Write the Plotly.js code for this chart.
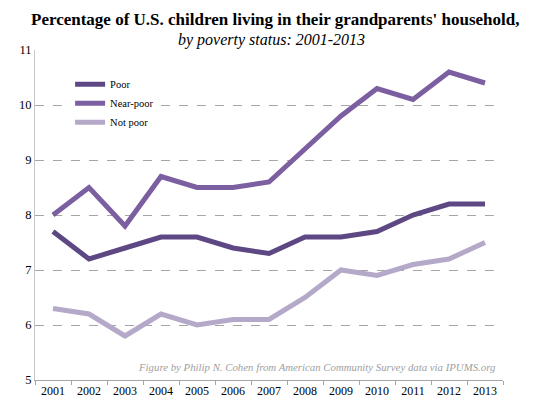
<!DOCTYPE html>
<html>
<head>
<meta charset="utf-8">
<script src="https://cdn.plot.ly/plotly-3.0.1.min.js"></script>
<style>
  html, body { margin: 0; padding: 0; background: #fff; }
  #chart { width: 535px; height: 412px; }
  /* legend and tick labels kept falling back to sans, force the serif */
  #chart text { font-family: 'Liberation Serif', serif !important; }
</style>
</head>
<body>
<div id="chart"></div>
<script>
// values
var years = ['2001', '2002', '2003', '2004', '2005', '2006', '2007',
             '2008', '2009', '2010', '2011', '2012', '2013'];
var poor     = [7.7, 7.2, 7.4, 7.6, 7.6, 7.4, 7.3, 7.6, 7.6, 7.7, 8.0, 8.2, 8.2];
var nearPoor = [8.0, 8.5, 7.8, 8.7, 8.5, 8.5, 8.6, 9.2, 9.8, 10.3, 10.1, 10.6, 10.4];
var notPoor  = [6.3, 6.2, 5.8, 6.2, 6.0, 6.1, 6.1, 6.5, 7.0, 6.9, 7.1, 7.2, 7.5];
var yTicks = [5, 6, 7, 8, 9, 10, 11];

var serif = "'Liberation Serif', serif";

function line(name, y, color) {
  return {
    x: years, y: y, name: name,
    type: 'scatter', mode: 'lines',
    line: {color: color, width: 5}
  };
}

var data = [
  line('Poor', poor, '#5e4884'),
  line('Near-poor', nearPoor, '#7b5fa0'),
  line('Not poor', notPoor, '#b5a9c9')
];

var layout = {
  width: 535, height: 412,
  margin: {l: 35, r: 32, t: 50, b: 32},
  paper_bgcolor: '#fff', plot_bgcolor: '#fff',
  font: {family: serif, color: '#000', size: 12},
  xaxis: {
    type: 'category',
    range: [-0.5, 12.5],
    showgrid: false,
    showline: true, linecolor: '#a6a6a6', linewidth: 1,
    ticks: 'outside', ticklen: 4, tickcolor: '#a6a6a6',
    tickson: 'boundaries',
    tickfont: {family: serif, size: 12, color: '#000'},
    fixedrange: true
  },
  yaxis: {
    range: [5, 11],
    tickvals: yTicks,
    showgrid: true, gridcolor: '#a6a6a6', griddash: 'dash', gridwidth: 1,
    showline: true, linecolor: '#c8c8c8', linewidth: 1,
    zeroline: false,
    ticks: '', ticklen: 0,
    tickfont: {family: serif, size: 12.5, color: '#000'},
    fixedrange: true
  },
  legend: {
    x: 0.075, y: 0.94, xanchor: 'left', yanchor: 'top',
    bgcolor: '#fff',
    font: {family: serif, size: 10.5, color: '#000'},
    itemwidth: 30, tracegroupgap: 0
  },
  annotations: [{
    text: "<b>Percentage of U.S. children living in their grandparents' household,</b>",
    xref: 'paper', yref: 'paper', x: 0.512, y: 1.091,
    xanchor: 'center', yanchor: 'middle', showarrow: false,
    font: {family: serif, size: 17, color: '#000'}
  }, {
    text: '<i>by poverty status: 2001-2013</i>',
    xref: 'paper', yref: 'paper', x: 0.505, y: 1.03,
    xanchor: 'center', yanchor: 'middle', showarrow: false,
    font: {family: serif, size: 16, color: '#000'}
  }, {
    text: '<i>Figure by Philip N. Cohen from American Community Survey data via IPUMS.org</i>',
    xref: 'paper', yref: 'paper', x: 0.99, y: 0.04,
    xanchor: 'right', yanchor: 'middle', showarrow: false,
    font: {family: serif, size: 10.8, color: '#a0a0a0'}
  }],
  showlegend: true
};

Plotly.newPlot('chart', data, layout, {displayModeBar: false, staticPlot: true});
</script>
</body>
</html>
